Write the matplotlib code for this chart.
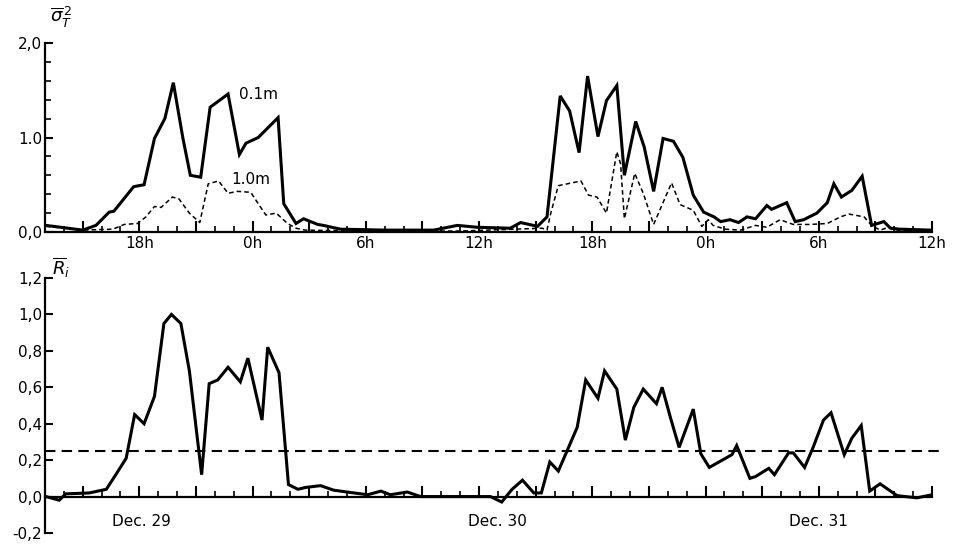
import matplotlib
matplotlib.use("Agg")
import matplotlib.pyplot as plt
from matplotlib.ticker import MultipleLocator, FixedLocator

# ---- data (hours counted from Dec 29, 0h) ----
sig01_h = [13.05, 15.0, 15.7, 16.4, 16.65, 17.7, 18.25, 18.8, 19.35, 19.8, 20.3, 20.7, 21.25,
           21.75, 22.7, 23.3, 23.65, 24.3, 25.35, 25.65, 26.3, 26.7, 27.45, 27.75, 28.65,
           31.0, 33.6, 34.85, 35.9, 37.65, 38.2, 39.1, 39.6, 40.3, 40.8, 41.3, 41.75, 42.3,
           42.75, 43.3, 43.7, 44.3, 44.75, 45.25, 45.75, 46.3, 46.8, 47.35, 47.9, 48.45,
           48.8, 49.3, 49.75, 50.2, 50.65, 51.25, 51.5, 52.3, 52.75, 53.2, 53.9, 54.45,
           54.8, 55.2, 55.75, 56.3, 56.8, 57.45, 57.8, 58.3, 59.9]
sig01 = [0.07, 0.02, 0.07, 0.21, 0.22, 0.48, 0.50, 0.99, 1.20, 1.58, 1.00, 0.60, 0.58,
         1.32, 1.46, 0.82, 0.94, 1.00, 1.21, 0.30, 0.09, 0.14, 0.08, 0.07, 0.03,
         0.02, 0.02, 0.07, 0.05, 0.04, 0.10, 0.06, 0.16, 1.44, 1.28, 0.84, 1.65, 1.01,
         1.39, 1.55, 0.60, 1.17, 0.90, 0.43, 0.99, 0.96, 0.79, 0.39, 0.21, 0.16,
         0.11, 0.13, 0.10, 0.16, 0.14, 0.28, 0.24, 0.31, 0.11, 0.13, 0.20, 0.31,
         0.51, 0.37, 0.44, 0.59, 0.07, 0.11, 0.04, 0.03, 0.02]

sig10_h = [13.05, 15.0, 16.6, 17.2, 17.9, 18.35, 18.8, 19.15, 19.75, 20.1, 20.65, 21.2,
           21.65, 22.2, 22.7, 23.2, 23.9, 24.7, 25.25, 25.85, 26.3, 26.8, 30.0, 35.0,
           39.35, 39.6, 39.8, 40.2, 41.4, 41.8, 42.25, 42.75, 43.3, 43.5, 43.7, 44.25,
           44.7, 45.25, 46.2, 46.65, 47.35, 47.8, 48.15, 48.4, 49.05, 49.85, 50.65,
           51.25, 51.95, 52.65, 53.55, 54.45, 55.15, 55.6, 56.4, 56.8, 57.25, 57.7,
           58.15, 59.9]
sig10 = [0.06, 0.02, 0.03, 0.08, 0.09, 0.16, 0.27, 0.26, 0.37, 0.35, 0.20, 0.10,
         0.51, 0.54, 0.41, 0.43, 0.42, 0.18, 0.20, 0.09, 0.04, 0.02, 0.01, 0.01,
         0.04, 0.02, 0.20, 0.49, 0.54, 0.39, 0.37, 0.20, 0.85, 0.72, 0.14, 0.62,
         0.41, 0.08, 0.52, 0.29, 0.23, 0.06, 0.13, 0.07, 0.03, 0.02, 0.07,
         0.05, 0.13, 0.08, 0.08, 0.09, 0.16, 0.19, 0.16, 0.07, 0.02, 0.05,
         0.02, 0.01]

ri_h = [13.05, 13.75, 14.1, 15.35, 16.25, 16.75, 17.3, 17.75, 18.25, 18.8, 19.3, 19.7,
        20.2, 20.65, 21.3, 21.7, 22.15, 22.7, 23.35, 23.75, 24.5, 24.8, 25.4, 25.9,
        26.4, 26.8, 27.6, 28.3, 29.0, 30.1, 30.8, 31.3, 32.2, 32.9, 36.6, 37.2, 37.75,
        38.3, 38.9, 39.3, 39.75, 40.2, 41.2, 41.65, 42.3, 42.65, 43.3, 43.75, 44.2,
        44.7, 45.4, 45.7, 46.15, 46.6, 47.35, 47.75, 48.2, 49.4, 49.65, 50.35, 50.65,
        51.35, 51.65, 52.4, 52.65, 53.25, 53.7, 54.25, 54.65, 55.35, 55.75, 56.25,
        56.7, 57.25, 58.15, 59.2, 60.0]
ri = [0.00, -0.02, 0.015, 0.02, 0.04, 0.12, 0.21, 0.45, 0.40, 0.55, 0.95, 1.00,
      0.95, 0.69, 0.12, 0.62, 0.64, 0.71, 0.63, 0.76, 0.42, 0.82, 0.68, 0.066,
      0.04, 0.05, 0.06, 0.035, 0.025, 0.01, 0.03, 0.01, 0.025, 0.0, 0.0, -0.03, 0.04,
      0.09, 0.02, 0.02, 0.19, 0.14, 0.38, 0.64, 0.54, 0.69, 0.59, 0.31, 0.49,
      0.59, 0.51, 0.60, 0.43, 0.27, 0.48, 0.235, 0.16, 0.23, 0.28, 0.10, 0.11,
      0.155, 0.12, 0.24, 0.24, 0.16, 0.27, 0.42, 0.46, 0.23, 0.32, 0.39,
      0.03, 0.07, 0.005, -0.007, 0.01]
ri_crit = 0.25

hour_ticks = [18, 24, 30, 36, 42, 48, 54, 60]
hour_labels = ["18h", "0h", "6h", "12h", "18h", "0h", "6h", "12h"]
top_yticks = [0.0, 1.0, 2.0]
top_ylabels = ["0,0", "1.0", "2,0"]
bot_yticks = [-0.2, 0.0, 0.2, 0.4, 0.6, 0.8, 1.0, 1.2]
bot_ylabels = ["-0,2", "0,0", "0,2", "0,4", "0,6", "0,8", "1,0", "1,2"]
day_labels = ["Dec. 29", "Dec. 30", "Dec. 31"]
day_pos = [18.1, 37.0, 54.0]

XMIN, XMAX = 13.0, 60.0

plt.rcParams['font.family'] = ['DejaVu Sans']
fig = plt.figure(figsize=(9.54, 5.45), dpi=100)

ax1 = fig.add_axes([45/954, 1-232/545, 887/954, 189/545])
ax2 = fig.add_axes([45/954, 12/545, 887/954, 255/545])

for ax in (ax1, ax2):
    ax.set_xlim(XMIN, XMAX)
    for s in ('top', 'right'):
        ax.spines[s].set_visible(False)
    for s in ('left', 'bottom'):
        ax.spines[s].set_linewidth(1.6)
    ax.xaxis.set_major_locator(MultipleLocator(3))
    ax.xaxis.set_minor_locator(MultipleLocator(1))
    ax.tick_params(axis='x', which='major', direction='in', length=8, width=1.5, labelsize=11)
    ax.tick_params(axis='x', which='minor', direction='in', length=4, width=1.2)
    ax.tick_params(axis='y', which='major', direction='in', length=6, width=1.5, labelsize=11, pad=2)
    ax.tick_params(axis='y', which='minor', direction='in', length=4, width=1.2)

# top panel
ax1.plot(sig01_h, sig01, color='black', lw=2.2, solid_joinstyle='miter')
ax1.plot(sig10_h, sig10, color='black', lw=1.1, ls=(0, (3, 2)))
ax1.set_ylim(0, 2.0)
ax1.yaxis.set_major_locator(FixedLocator(top_yticks))
ax1.set_yticklabels(top_ylabels)
ax1.yaxis.set_minor_locator(MultipleLocator(0.2))
ax1.xaxis.set_major_formatter(plt.FuncFormatter(
    lambda v, p: hour_labels[hour_ticks.index(int(round(v)))] if int(round(v)) in hour_ticks else ""))
ax1.tick_params(axis='x', pad=3)
ax1.text(23.27, 1.46, "0.1m", fontsize=11, ha='left', va='center')
ax1.text(22.85, 0.56, "1.0m", fontsize=11, ha='left', va='center')

# bottom panel
ax2.plot(ri_h, ri, color='black', lw=2.2, solid_joinstyle='miter')
ax2.plot([XMIN, XMAX + 0.7], [ri_crit, ri_crit], color='black', lw=1.5,
         ls=(0, (5, 3)), clip_on=False)
ax2.set_ylim(-0.2, 1.2)
ax2.set_yticks(bot_yticks)
ax2.set_yticklabels(bot_ylabels)
ax2.spines['bottom'].set_position(('data', 0))
ax2.xaxis.set_major_formatter(plt.NullFormatter())
for lab, pos in zip(day_labels, day_pos):
    ax2.text(pos, -0.135, lab, fontsize=11, ha='center', va='center')

fig.text(50/954, 1-17/545, r'$\overline{\sigma}_T^{\,2}$', fontsize=13, ha='left', va='center')
fig.text(52/954, 1-268/545, r'$\overline{R}_i$', fontsize=13, ha='left', va='center')

fig.savefig("out.png", dpi=100)
